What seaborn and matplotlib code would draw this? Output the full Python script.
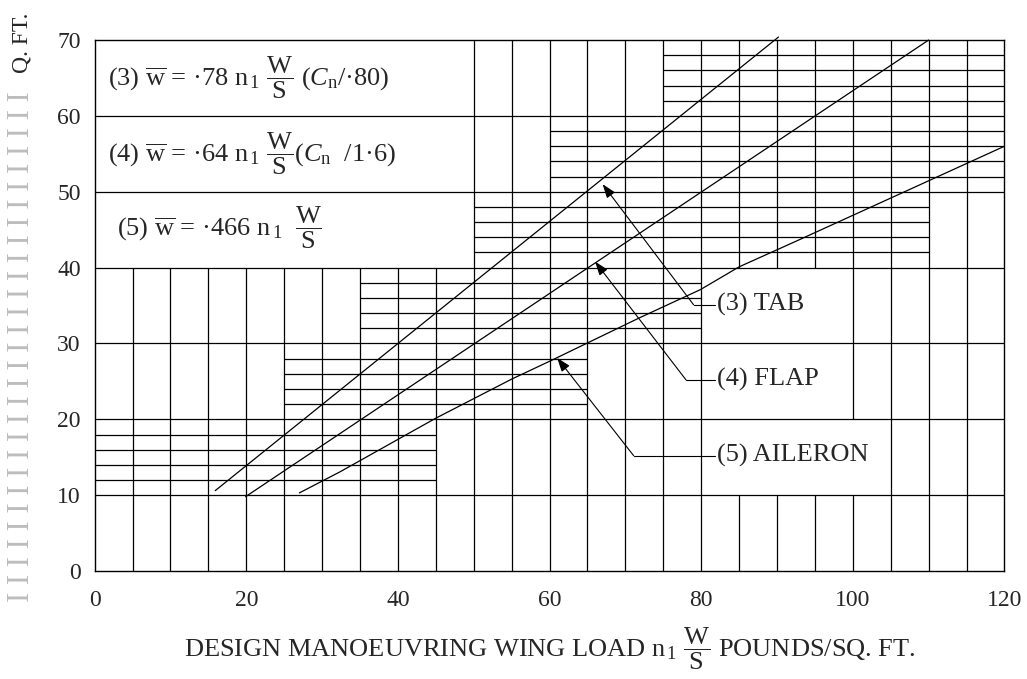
import numpy as np
import pandas as pd
import seaborn as sns
import matplotlib.pyplot as plt

# curves (x = n1 W/S, y = mean load)
tab_x = [15.9, 90.2]
tab_y = [10.6, 70.4]
flap_x = [19.9, 110.0]
flap_y = [9.8, 70.0]
aileron_x = [27.0, 32.4, 44.9, 55.0, 60.1, 71.9, 79.9, 85.0, 93.0, 120.0]
aileron_y = [10.3, 13.1, 20.1, 25.3, 27.7, 33.4, 37.1, 40.1, 43.7, 56.0]

# arrow tips on the curves, elbow of the leader, label position
label_text = ['(3) TAB', '(4) FLAP', '(5) AILERON']
tip_x = [67.0, 66.0, 61.0]
tip_y = [51.0, 40.8, 28.1]
elbow_x = [79.0, 78.0, 71.1]
label_x = [82.1, 82.1, 82.1]
label_y = [35.1, 25.2, 15.2]

# grid: vertical lines every 5, main horizontals every 10
vert_x = list(range(5, 120, 5))
major_y = [10, 20, 30, 40, 50, 60]
# ruled blocks with lines every 2 units
hatch_x0 = [0, 25, 35, 50, 60, 75]
hatch_x1 = [45, 65, 80, 110, 120, 120]
hatch_y0 = [10, 20, 30, 40, 50, 60]
# blank boxes (x0, x1, y0, y1) where vertical lines are left out
blank_x0 = [0, 80, 80]
blank_x1 = [50, 100, 105]
blank_y0 = [40, 20, 10]
blank_y1 = [70, 40, 20]

x_ticks = [0, 20, 40, 60, 80, 100, 120]
y_ticks = [0, 10, 20, 30, 40, 50, 60, 70]

ws = r'$\dfrac{\mathrm{W}}{\mathrm{S}}$'
n1 = r'n$_{\,\mathrm{1}}$'
formulas = [
    r'(3) $\overline{\mathrm{w}}$ = ·78 ' + n1 + ' ' + ws + r' ($C_{\mathrm{n}}$/·80)',
    r'(4) $\overline{\mathrm{w}}$ = ·64 ' + n1 + ' ' + ws + r'($C_{\mathrm{n}}$  /1·6)',
    r'(5) $\overline{\mathrm{w}}$ = ·466 ' + n1 + '  ' + ws,
]
formula_x = [1.8, 1.8, 3.0]
formula_y = [65.0, 55.0, 45.2]

sns.set_theme(style='white')
plt.rcParams['font.family'] = ['Liberation Serif', 'DejaVu Serif']
plt.rcParams['mathtext.fontset'] = 'custom'
plt.rcParams['mathtext.rm'] = 'Liberation Serif'
plt.rcParams['mathtext.it'] = 'Liberation Serif:italic'
plt.rcParams['mathtext.bf'] = 'Liberation Serif:bold'

fig, ax = plt.subplots(figsize=(10.27, 6.79), dpi=100)
fig.subplots_adjust(left=0.0922, right=0.978, top=0.941, bottom=0.159)

lw = 0.9
# vertical grid lines with gaps where boxes are
for x in vert_x:
    cuts = []
    for bx0, bx1, by0, by1 in zip(blank_x0, blank_x1, blank_y0, blank_y1):
        if bx0 < x < bx1:
            cuts.append((by0, by1))
    cuts.sort()
    start = 0
    for c0, c1 in cuts:
        if c0 > start:
            ax.vlines(x, start, c0, color='black', lw=lw)
        start = max(start, c1)
    if start < 70:
        ax.vlines(x, start, 70, color='black', lw=lw)

ax.hlines(major_y, 0, 120, color='black', lw=lw)
for x0, x1, y0 in zip(hatch_x0, hatch_x1, hatch_y0):
    ax.hlines([y0 + 2, y0 + 4, y0 + 6, y0 + 8], x0, x1, color='black', lw=lw)

# the three curves
curves = pd.DataFrame({
    'x': tab_x + flap_x + aileron_x,
    'y': tab_y + flap_y + aileron_y,
    'curve': ['tab'] * len(tab_x) + ['flap'] * len(flap_x) + ['aileron'] * len(aileron_x),
})
for name in ['tab', 'flap', 'aileron']:
    sub = curves[curves['curve'] == name]
    sns.lineplot(data=sub, x='x', y='y', sort=False, estimator=None,
                 color='black', linewidth=0.9, ax=ax, clip_on=False)

# formula boxes text
for txt, fx, fy in zip(formulas, formula_x, formula_y):
    ax.text(fx, fy, txt, fontsize=19, ha='left', va='center')

# labels with leader lines and arrows
for txt, tx, ty, ex, lx, ly in zip(label_text, tip_x, tip_y, elbow_x, label_x, label_y):
    ax.plot([ex, lx - 0.3], [ly, ly], color='black', lw=0.8)
    ax.annotate('', xy=(tx, ty), xytext=(ex, ly),
                arrowprops=dict(arrowstyle='-|>,head_length=0.7,head_width=0.25',
                                color='black', lw=0.8, shrinkA=0, shrinkB=0,
                                mutation_scale=12))
    ax.text(lx, ly, txt, fontsize=19, ha='left', va='center')

ax.set_xlim(0, 120)
ax.set_ylim(0, 70)
ax.set_xticks(x_ticks)
ax.set_yticks(y_ticks)
ax.tick_params(axis='x', length=0, pad=14, labelsize=17)
ax.tick_params(axis='y', length=0, pad=10, labelsize=17)
for s in ax.spines.values():
    s.set_color('black')
    s.set_linewidth(1.0)

ax.set_xlabel('DESIGN MANOEUVRING WING LOAD ' + n1 + ' ' + ws + ' POUNDS/SQ. FT.',
              fontsize=19, labelpad=10)
ax.set_ylabel('')

# clipped vertical axis title on the left edge
fig.text(22 / 1027, 1 - 13 / 679, 'Q. FT.', rotation=90, fontsize=17,
         ha='center', va='top')
fig.text(22 / 1027, 1 - 84 / 679, 'I ' * 29, rotation=90, fontsize=22,
         ha='center', va='top', color='#bdbdbd')

fig.savefig('out.png', dpi=100)
